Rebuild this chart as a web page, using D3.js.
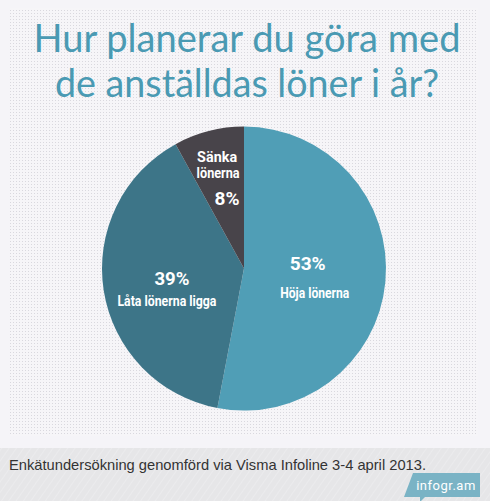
<!DOCTYPE html>
<html>
<head>
<meta charset="utf-8">
<script src="https://cdn.jsdelivr.net/npm/d3@7"></script>
<style>
    html, body { margin: 0; padding: 0; background: #f5f4f8; }
    svg { display: block; }
</style>
</head>
<body>
<div id="chart"></div>
<script>
// Survey answers, in the order they are drawn (clockwise from 12 o'clock)
var categories = ["Höja lönerna", "Låta lönerna ligga", "Sänka lönerna"];
var labelLines = [["Höja lönerna"], ["Låta lönerna ligga"], ["Sänka", "lönerna"]];
var values = [53, 39, 8];
var colors = ["#509eb6", "#3d7588", "#48444a"];

var titleLines = ["Hur planerar du göra med", "de anställdas löner i år?"];
var footnote = "Enkätundersökning genomförd via Visma Infoline 3-4 april 2013.";

var width = 490,
    height = 501,
    cx = 244,
    cy = 268.6,
    radius = 142;

var svg = d3.select("#chart")
    .append("svg")
    .attr("width", width)
    .attr("height", height);

var defs = svg.append("defs");

// dotted panel background
var dots = defs.append("pattern")
    .attr("id", "dots")
    .attr("width", 3)
    .attr("height", 3)
    .attr("patternUnits", "userSpaceOnUse");
dots.append("rect").attr("width", 3).attr("height", 3).attr("fill", "#f6f5f8");
dots.append("rect").attr("x", 1).attr("y", 1).attr("width", 1).attr("height", 1).attr("fill", "#d9d8de");

// faint diagonal texture for the footer band
var hatch = defs.append("pattern")
    .attr("id", "hatch")
    .attr("width", 6)
    .attr("height", 6)
    .attr("patternUnits", "userSpaceOnUse")
    .attr("patternTransform", "rotate(35)");
hatch.append("rect").attr("width", 6).attr("height", 6).attr("fill", "#e6e6e8");
hatch.append("rect").attr("width", 1).attr("height", 6).attr("fill", "#ebebed");

svg.append("rect")
    .attr("width", width)
    .attr("height", height)
    .attr("fill", "#f5f4f8");

svg.append("rect")
    .attr("x", 10)
    .attr("y", 8)
    .attr("width", 468)
    .attr("height", 428)
    .attr("fill", "url(#dots)");

svg.append("rect")
    .attr("x", 0)
    .attr("y", 448)
    .attr("width", width)
    .attr("height", height - 448)
    .attr("fill", "url(#hatch)");

// Title
var titleWidths = [427, 384];
svg.append("g").attr("class", "g-title")
    .selectAll("text")
    .data(titleLines)
    .enter().append("text")
    .attr("x", cx + 3)
    .attr("y", function (d, i) { return 52 + i * 45; })
    .attr("text-anchor", "middle")
    .attr("textLength", function (d, i) { return titleWidths[i]; })
    .attr("lengthAdjust", "spacingAndGlyphs")
    .attr("fill", "#4a9ab3")
    .attr("font-family", "Lato, 'Open Sans', sans-serif")
    .attr("font-size", "38px")
    .text(function (d) { return d; });

// Pie
var pie = d3.pie().sort(null).value(function (d) { return d; });
var arc = d3.arc().innerRadius(0).outerRadius(radius);
var arcs = pie(values);

var gPie = svg.append("g")
    .attr("class", "g-pie")
    .attr("transform", "translate(" + cx + "," + cy + ")");

gPie.selectAll("path")
    .data(arcs)
    .enter().append("path")
    .attr("d", arc)
    .attr("fill", function (d, i) { return colors[i]; });

// label placement: distance from the centre, then small nudges per text line
var labelRadius = [68, 78, 88];
var pctNudge = [[-4, -5], [5, 4], [5, 22]];
var nameNudge = [[[3, 23]], [[0, 25]], [[-5, -21], [-4, -5]]];
var pctWidth = [36, 35, 25];
var nameWidth = [[69], [99], [40, 43]];
var labelFont = "Roboto, 'Liberation Sans', sans-serif";

var gLabels = gPie.selectAll("g.label")
    .data(arcs)
    .enter().append("g")
    .attr("class", "label")
    .attr("transform", function (d, i) {
        var c = d3.arc().innerRadius(labelRadius[i]).outerRadius(labelRadius[i]).centroid(d);
        return "translate(" + c[0] + "," + c[1] + ")";
    });

gLabels.each(function (d, i) {
    var g = d3.select(this);
    g.append("text")
        .attr("x", pctNudge[i][0])
        .attr("y", pctNudge[i][1])
        .attr("text-anchor", "middle")
        .attr("textLength", pctWidth[i])
        .attr("lengthAdjust", "spacingAndGlyphs")
        .attr("fill", "white")
        .attr("font-family", labelFont)
        .attr("font-weight", "bold")
        .attr("font-size", "18px")
        .text(values[i] + "%");
    labelLines[i].forEach(function (l, j) {
        g.append("text")
            .attr("x", nameNudge[i][j][0])
            .attr("y", nameNudge[i][j][1])
            .attr("text-anchor", "middle")
            .attr("textLength", nameWidth[i][j])
            .attr("lengthAdjust", "spacingAndGlyphs")
            .attr("fill", "white")
            .attr("font-family", labelFont)
            .attr("font-weight", "bold")
            .attr("font-size", "14px")
            .text(l);
    });
});

// Footnote
svg.append("text")
    .attr("x", 9)
    .attr("y", 470)
    .attr("textLength", 417)
    .attr("lengthAdjust", "spacingAndGlyphs")
    .attr("fill", "#333333")
    .attr("font-family", "'Liberation Sans', Arial, sans-serif")
    .attr("font-size", "15px")
    .text(footnote);

// infogr.am tab
svg.append("path")
    .attr("d", "M413,473 L480,473 L480,497 L425,497 L420,502 L420,497 L404,497 Z")
    .attr("fill", "#7ab3c5");

svg.append("text")
    .attr("x", 446)
    .attr("y", 490)
    .attr("text-anchor", "middle")
    .attr("fill", "white")
    .attr("font-family", "Roboto, sans-serif")
    .attr("font-size", "13px")
    .attr("letter-spacing", "0.5px")
    .text("infogr.am");
</script>
</body>
</html>
